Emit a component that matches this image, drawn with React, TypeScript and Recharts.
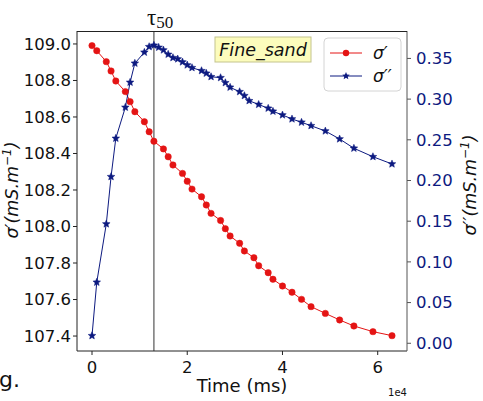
import React from 'react';
import { LineChart, Line, XAxis, YAxis, ReferenceLine } from 'recharts';

// sigma' (real part), red circles
const realTime = [0, 1000, 3000, 4000, 5000, 7000, 8000, 9000, 11000, 12000, 13000, 15000, 16000, 17000, 19000, 20000, 21000, 23000, 24000, 25000, 27000, 28000, 29000, 31000, 32000, 34000, 35000, 37000, 38000, 40000, 42000, 44000, 46000, 49000, 52000, 55000, 59000, 63000];
const realSigma = [108.991, 108.963, 108.903, 108.852, 108.797, 108.739, 108.684, 108.629, 108.574, 108.519, 108.467, 108.425, 108.382, 108.337, 108.291, 108.248, 108.205, 108.163, 108.118, 108.072, 108.033, 107.988, 107.948, 107.908, 107.866, 107.829, 107.785, 107.747, 107.711, 107.674, 107.640, 107.601, 107.561, 107.524, 107.488, 107.455, 107.424, 107.402];

// sigma'' (imaginary part), navy stars
const imagTime = [0, 1000, 3000, 4000, 5000, 7000, 8000, 9000, 11000, 12000, 13000, 14000, 15000, 16000, 17000, 18000, 19000, 20000, 21000, 23000, 24000, 25000, 27000, 28000, 29000, 31000, 32000, 33000, 35000, 37000, 38000, 40000, 42000, 44000, 46000, 49000, 52000, 55000, 59000, 63000];
const imagSigma = [0.0093, 0.0749, 0.1466, 0.2047, 0.2518, 0.2899, 0.3206, 0.344, 0.3575, 0.3644, 0.3661, 0.3636, 0.3603, 0.355, 0.3509, 0.3493, 0.3456, 0.3419, 0.3386, 0.3349, 0.3317, 0.3275, 0.3263, 0.3201, 0.3145, 0.3091, 0.3042, 0.298, 0.2934, 0.2887, 0.285, 0.2805, 0.2756, 0.2715, 0.2673, 0.2608, 0.251, 0.2396, 0.2292, 0.2203];

const xTicks = [0, 20000, 40000, 60000];
const leftTicks = [107.4, 107.6, 107.8, 108.0, 108.2, 108.4, 108.6, 108.8, 109.0];
const rightTicks = [0, 0.05, 0.1, 0.15, 0.2, 0.25, 0.3, 0.35];
const tau50 = 13000;

const realData = realTime.map((t, i) => ({ t, v: realSigma[i] }));
const imagData = imagTime.map((t, i) => ({ t, v: imagSigma[i] }));

const X_DOMAIN = [-3150, 66150];
const LEFT_DOMAIN = [107.318, 109.071];
const RIGHT_DOMAIN = [-0.0095, 0.3837];

const RED = '#e41414';
const NAVY = '#0d1a80';
const FONT = 'DejaVu Sans';

const starPoints = (cx: number, cy: number, R: number, r: number) => {
  const pts: string[] = [];
  for (let k = 0; k < 10; k++) {
    const a = -Math.PI / 2 + (k * Math.PI) / 5;
    const rad = k % 2 === 0 ? R : r;
    pts.push(`${cx + rad * Math.cos(a)},${cy + rad * Math.sin(a)}`);
  }
  return pts.join(' ');
};

const RedDot = (p: any) => (
  <circle key={`r-${p.index}`} cx={p.cx} cy={p.cy} r={3.2} fill={RED} stroke={RED} strokeWidth={0.5} />
);

const StarDot = (p: any) => (
  <polygon key={`s-${p.index}`} points={starPoints(p.cx, p.cy, 4, 1.8)} fill={NAVY} stroke={NAVY} strokeWidth={0.5} />
);

const tickStyle = { fontSize: 16.5, fill: '#111', fontFamily: FONT };

const App = () => {
  return (
    <div style={{ position: 'absolute', left: 0, top: 0, width: 483, height: 401, background: '#fff' }}>
      <LineChart width={483} height={401} margin={{ top: 31, right: 0, bottom: 0, left: 0 }}>
        <XAxis
          dataKey="t"
          type="number"
          domain={X_DOMAIN}
          allowDataOverflow
          ticks={xTicks}
          tickFormatter={(v: number) => String(v / 10000)}
          height={50}
          tick={tickStyle}
          tickSize={4}
          tickMargin={6}
          axisLine={{ stroke: '#222' }}
          tickLine={{ stroke: '#222' }}
        />
        <YAxis
          yAxisId="left"
          type="number"
          domain={LEFT_DOMAIN}
          allowDataOverflow
          ticks={leftTicks}
          tickFormatter={(v: number) => v.toFixed(1)}
          width={77}
          tick={tickStyle}
          tickSize={4}
          tickMargin={2}
          axisLine={{ stroke: '#222' }}
          tickLine={{ stroke: '#222' }}
        />
        <YAxis
          yAxisId="right"
          orientation="right"
          type="number"
          domain={RIGHT_DOMAIN}
          allowDataOverflow
          ticks={rightTicks}
          tickFormatter={(v: number) => v.toFixed(2)}
          width={76}
          tick={{ ...tickStyle, fill: NAVY }}
          tickSize={4}
          tickMargin={5}
          axisLine={{ stroke: '#555' }}
          tickLine={{ stroke: '#555' }}
        />
        <ReferenceLine x={tau50} yAxisId="left" stroke="#555" strokeWidth={1.2} />
        <Line
          yAxisId="left"
          data={realData}
          dataKey="v"
          type="linear"
          stroke={RED}
          strokeWidth={1}
          dot={RedDot}
          activeDot={false}
          isAnimationActive={false}
        />
        <Line
          yAxisId="right"
          data={imagData}
          dataKey="v"
          type="linear"
          stroke={NAVY}
          strokeWidth={1}
          dot={StarDot}
          activeDot={false}
          isAnimationActive={false}
        />
      </LineChart>
      <svg width={483} height={401} style={{ position: 'absolute', left: 0, top: 0, pointerEvents: 'none' }}>
        {/* top spine of the frame */}
        <line x1={77} y1={31.5} x2={407} y2={31.5} stroke="#222" strokeWidth={1} />
        {/* title */}
        <text x={147} y={25} fontFamily="Liberation Serif" fontSize={23} fill="#111">
          τ<tspan dy={3} fontSize={17}>50</tspan>
        </text>
        {/* annotation box */}
        <rect x={215} y={37} width={96} height={25} fill="#fcfcbc" stroke="#c4c48e" strokeWidth={1} />
        <text x={263} y={56} textAnchor="middle" fontFamily={FONT} fontStyle="italic" fontSize={17.5} fill="#111">
          Fine_sand
        </text>
        {/* legend */}
        <rect x={324} y={38} width={77} height={53} rx={4} fill="#fff" fillOpacity={0.85} stroke="#d4d4d4" />
        <line x1={330} y1={53} x2={362} y2={53} stroke={RED} strokeWidth={1} />
        <circle cx={346} cy={53} r={3.2} fill={RED} />
        <text x={373} y={59} fontFamily={FONT} fontStyle="italic" fontSize={17} fill="#111">σ′</text>
        <line x1={330} y1={76} x2={362} y2={76} stroke={NAVY} strokeWidth={1} />
        <polygon points={starPoints(346, 76, 4, 1.8)} fill={NAVY} />
        <text x={373} y={82} fontFamily={FONT} fontStyle="italic" fontSize={17} fill="#111">σ′′</text>
        {/* axis labels */}
        <text
          x={18}
          y={190}
          transform="rotate(-90 18 190)"
          textAnchor="middle"
          fontFamily={FONT}
          fontStyle="italic"
          fontSize={17.5}
          fill="#111"
        >
          σ′(mS.m<tspan dy={-7} fontSize={12}>−1</tspan><tspan dy={7}>)</tspan>
        </text>
        <text
          x={476}
          y={185}
          transform="rotate(-90 476 185)"
          textAnchor="middle"
          fontFamily={FONT}
          fontStyle="italic"
          fontSize={17.5}
          fill="#111"
        >
          σ′′(mS.m<tspan dy={-7} fontSize={12}>−1</tspan><tspan dy={7}>)</tspan>
        </text>
        <text x={242} y={392} textAnchor="middle" fontFamily={FONT} fontSize={18} fill="#111">
          Time (ms)
        </text>
        <text x={407} y={396} textAnchor="end" fontFamily={FONT} fontSize={10} fill="#111">
          1e4
        </text>
        <text x={-1} y={387} fontFamily={FONT} fontSize={22} fill="#111">
          g.
        </text>
      </svg>
    </div>
  );
};

export default App;
